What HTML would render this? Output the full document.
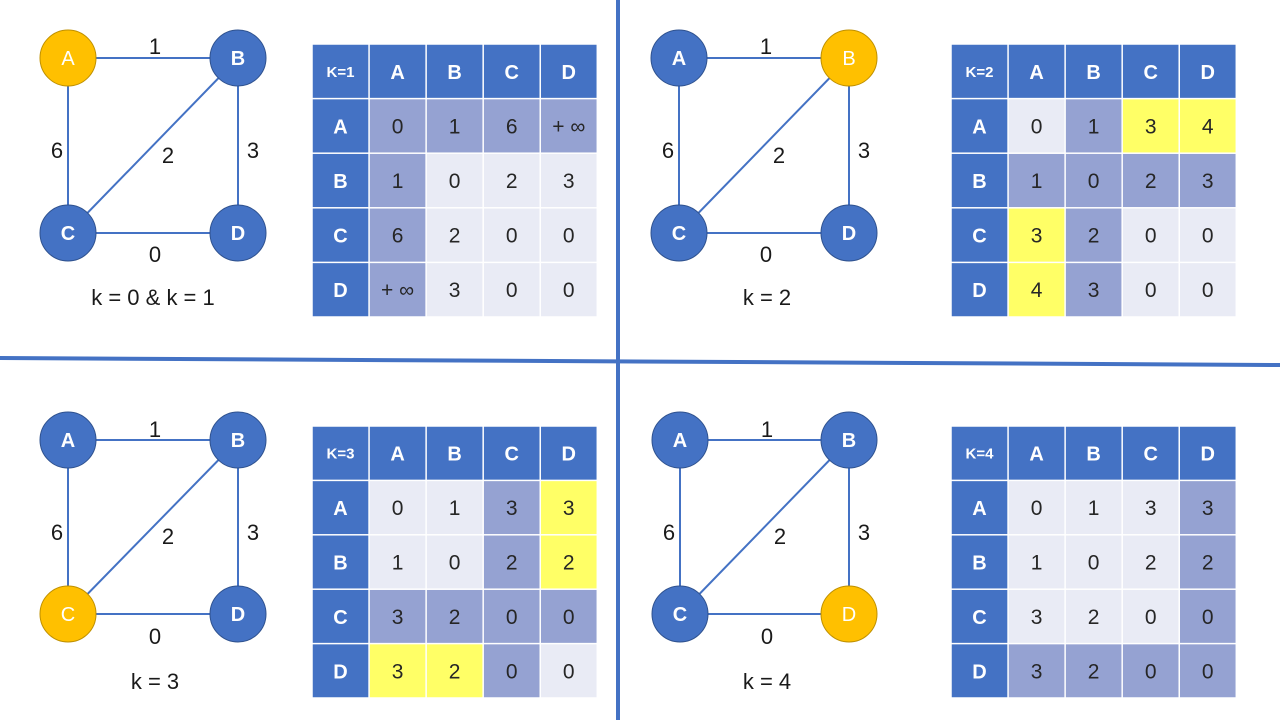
<!DOCTYPE html>
<html><head><meta charset="utf-8"><style>
html,body{margin:0;padding:0;background:#fff;}
svg{display:block;}
text{font-family:"Liberation Sans",sans-serif;}
</style></head><body>
<svg width="1280" height="720" viewBox="0 0 1280 720" xmlns="http://www.w3.org/2000/svg">
<rect width="1280" height="720" fill="#fff"/>
<line x1="618" y1="0" x2="618" y2="720" stroke="#4472C4" stroke-width="4"/>
<line x1="0" y1="358" x2="1280" y2="365" stroke="#4472C4" stroke-width="4"/>

<g transform="translate(0,0)">
<g stroke="#4472C4" stroke-width="2">
<line x1="68" y1="58" x2="238" y2="58"/><line x1="68" y1="58" x2="68" y2="233"/>
<line x1="238" y1="58" x2="238" y2="233"/><line x1="68" y1="233" x2="238" y2="233"/>
<line x1="68" y1="233" x2="238" y2="58"/></g>
<circle cx="68" cy="58" r="28" fill="#FFC000" stroke="#BF9000" stroke-width="1"/>
<circle cx="238" cy="58" r="28" fill="#4472C4" stroke="#2F528F" stroke-width="1"/>
<circle cx="68" cy="233" r="28" fill="#4472C4" stroke="#2F528F" stroke-width="1"/>
<circle cx="238" cy="233" r="28" fill="#4472C4" stroke="#2F528F" stroke-width="1"/>
<g fill="#fff" font-size="20" text-anchor="middle">
<text x="68" y="65">A</text>
<text x="238" y="65" font-weight="bold">B</text>
<text x="68" y="240" font-weight="bold">C</text>
<text x="238" y="240" font-weight="bold">D</text></g>
<g fill="#1a1a1a" font-size="22" text-anchor="middle">
<text x="155" y="54">1</text><text x="57" y="158">6</text><text x="168" y="163">2</text>
<text x="253" y="158">3</text><text x="155" y="262">0</text>
<text x="153" y="305">k = 0 &amp; k = 1</text></g>
</g>

<g transform="translate(611,0)">
<g stroke="#4472C4" stroke-width="2">
<line x1="68" y1="58" x2="238" y2="58"/><line x1="68" y1="58" x2="68" y2="233"/>
<line x1="238" y1="58" x2="238" y2="233"/><line x1="68" y1="233" x2="238" y2="233"/>
<line x1="68" y1="233" x2="238" y2="58"/></g>
<circle cx="68" cy="58" r="28" fill="#4472C4" stroke="#2F528F" stroke-width="1"/>
<circle cx="238" cy="58" r="28" fill="#FFC000" stroke="#BF9000" stroke-width="1"/>
<circle cx="68" cy="233" r="28" fill="#4472C4" stroke="#2F528F" stroke-width="1"/>
<circle cx="238" cy="233" r="28" fill="#4472C4" stroke="#2F528F" stroke-width="1"/>
<g fill="#fff" font-size="20" text-anchor="middle">
<text x="68" y="65" font-weight="bold">A</text>
<text x="238" y="65">B</text>
<text x="68" y="240" font-weight="bold">C</text>
<text x="238" y="240" font-weight="bold">D</text></g>
<g fill="#1a1a1a" font-size="22" text-anchor="middle">
<text x="155" y="54">1</text><text x="57" y="158">6</text><text x="168" y="163">2</text>
<text x="253" y="158">3</text><text x="155" y="262">0</text>
<text x="156" y="305">k = 2</text></g>
</g>

<g transform="translate(0,382)">
<g stroke="#4472C4" stroke-width="2">
<line x1="68" y1="58" x2="238" y2="58"/><line x1="68" y1="58" x2="68" y2="232"/>
<line x1="238" y1="58" x2="238" y2="232"/><line x1="68" y1="232" x2="238" y2="232"/>
<line x1="68" y1="232" x2="238" y2="58"/></g>
<circle cx="68" cy="58" r="28" fill="#4472C4" stroke="#2F528F" stroke-width="1"/>
<circle cx="238" cy="58" r="28" fill="#4472C4" stroke="#2F528F" stroke-width="1"/>
<circle cx="68" cy="232" r="28" fill="#FFC000" stroke="#BF9000" stroke-width="1"/>
<circle cx="238" cy="232" r="28" fill="#4472C4" stroke="#2F528F" stroke-width="1"/>
<g fill="#fff" font-size="20" text-anchor="middle">
<text x="68" y="65" font-weight="bold">A</text>
<text x="238" y="65" font-weight="bold">B</text>
<text x="68" y="239">C</text>
<text x="238" y="239" font-weight="bold">D</text></g>
<g fill="#1a1a1a" font-size="22" text-anchor="middle">
<text x="155" y="55">1</text><text x="57" y="158">6</text><text x="168" y="162">2</text>
<text x="253" y="158">3</text><text x="155" y="262">0</text>
<text x="155" y="307">k = 3</text></g>
</g>

<g transform="translate(612,382)">
<g stroke="#4472C4" stroke-width="2">
<line x1="68" y1="58" x2="237" y2="58"/><line x1="68" y1="58" x2="68" y2="232"/>
<line x1="237" y1="58" x2="237" y2="232"/><line x1="68" y1="232" x2="237" y2="232"/>
<line x1="68" y1="232" x2="237" y2="58"/></g>
<circle cx="68" cy="58" r="28" fill="#4472C4" stroke="#2F528F" stroke-width="1"/>
<circle cx="237" cy="58" r="28" fill="#4472C4" stroke="#2F528F" stroke-width="1"/>
<circle cx="68" cy="232" r="28" fill="#4472C4" stroke="#2F528F" stroke-width="1"/>
<circle cx="237" cy="232" r="28" fill="#FFC000" stroke="#BF9000" stroke-width="1"/>
<g fill="#fff" font-size="20" text-anchor="middle">
<text x="68" y="65" font-weight="bold">A</text>
<text x="237" y="65" font-weight="bold">B</text>
<text x="68" y="239" font-weight="bold">C</text>
<text x="237" y="239">D</text></g>
<g fill="#1a1a1a" font-size="22" text-anchor="middle">
<text x="155" y="55">1</text><text x="57" y="158">6</text><text x="168" y="162">2</text>
<text x="252" y="158">3</text><text x="155" y="262">0</text>
<text x="155" y="307">k = 4</text></g>
</g>
</svg>
<script>
(function(){
var svg=document.querySelector('svg');
var NS='http://www.w3.org/2000/svg';
var H='#4472C4',D='#95A2D2',L='#E9EBF5',Y='#FFFF66';
function table(x0,y0,h,label,colors,vals){
  var w=(285.3)/5, rh=h/5;
  var hdr=[label,'A','B','C','D'];
  for(var r=0;r<5;r++){for(var c=0;c<5;c++){
    var fill,txt,fw='normal',fs=21,col='#262626';
    if(r==0||c==0){fill=H;col='#fff';fw='bold';
      txt=r==0?hdr[c]:hdr[r]; if(r==0&&c==0){fs=15;} else fs=20;}
    else {fill=colors[r-1][c-1];txt=vals[r-1][c-1];}
    var rect=document.createElementNS(NS,'rect');
    rect.setAttribute('x',x0+c*w+0.75);rect.setAttribute('y',y0+r*rh+0.75);
    rect.setAttribute('width',w-1.5);rect.setAttribute('height',rh-1.5);
    rect.setAttribute('fill',fill);svg.appendChild(rect);
    var t=document.createElementNS(NS,'text');
    t.setAttribute('x',x0+c*w+w/2);
    t.setAttribute('y',y0+r*rh+rh/2+(fs==15?5.5:7.5));
    t.setAttribute('text-anchor','middle');t.setAttribute('font-size',fs);
    t.setAttribute('font-weight',fw);t.setAttribute('fill',col);
    t.textContent=txt;svg.appendChild(t);
  }}
}
table(312,44,273,'K=1',
 [[D,D,D,D],[D,L,L,L],[D,L,L,L],[D,L,L,L]],
 [['0','1','6','+ ∞'],['1','0','2','3'],['6','2','0','0'],['+ ∞','3','0','0']]);
table(951,44,273,'K=2',
 [[L,D,Y,Y],[D,D,D,D],[Y,D,L,L],[Y,D,L,L]],
 [['0','1','3','4'],['1','0','2','3'],['3','2','0','0'],['4','3','0','0']]);
table(312,426,272,'K=3',
 [[L,L,D,Y],[L,L,D,Y],[D,D,D,D],[Y,Y,D,L]],
 [['0','1','3','3'],['1','0','2','2'],['3','2','0','0'],['3','2','0','0']]);
table(951,426,272,'K=4',
 [[L,L,L,D],[L,L,L,D],[L,L,L,D],[D,D,D,D]],
 [['0','1','3','3'],['1','0','2','2'],['3','2','0','0'],['3','2','0','0']]);
})();
</script>
</body></html>
